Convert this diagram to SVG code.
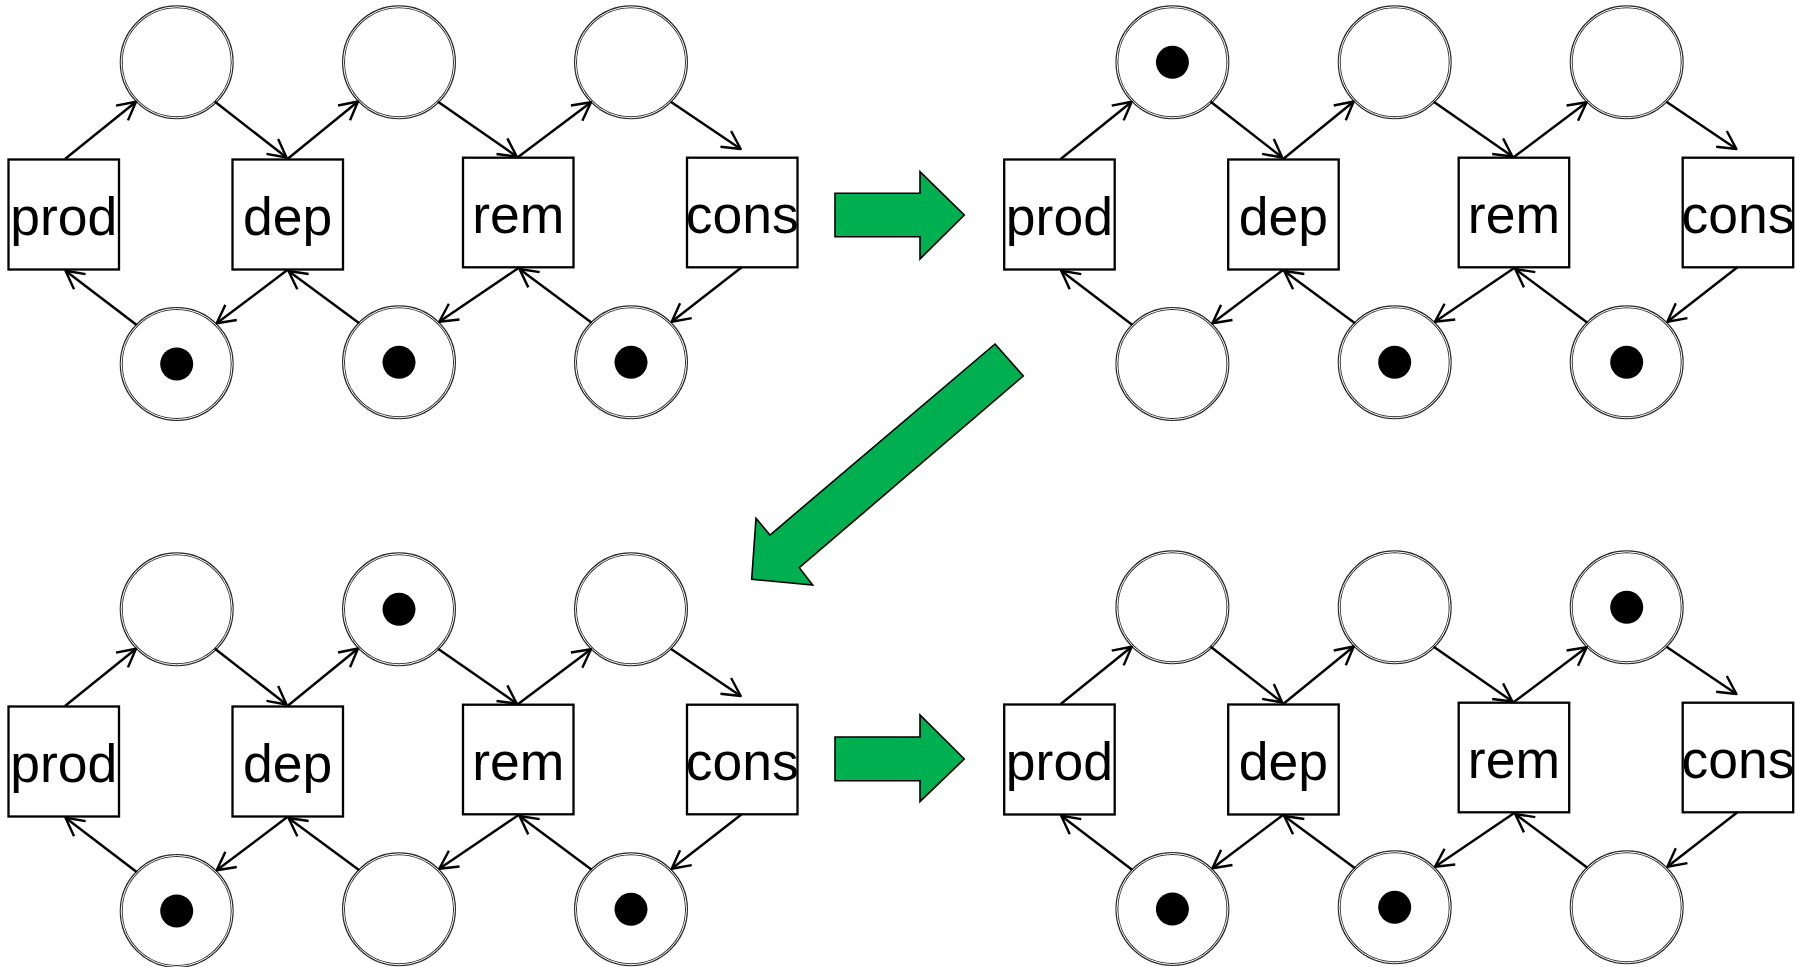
<svg xmlns="http://www.w3.org/2000/svg" width="1796" height="967" viewBox="0 0 1796 967">
  <style>
    .place { fill: #fff; stroke: #2a2a2a; stroke-width: 3; }
    .gap { fill: none; stroke: #fff; stroke-width: 1; }
    .token { fill: #000; }
    .trans { fill: #fff; stroke: #000; stroke-width: 2.3; }
    .label { font-family: "Liberation Sans", Arial, sans-serif; font-size: 53.5px; text-anchor: middle; fill: #000; }
    .arc { fill: none; stroke: #000; stroke-width: 2.4; marker-end: url(#open); }
    .step { fill: #00b050; stroke: #000; stroke-width: 1.6; stroke-linejoin: miter; }
  </style>
  <defs>
    <marker id="open" markerUnits="userSpaceOnUse" markerWidth="30" markerHeight="30" refX="0" refY="0" orient="auto" viewBox="-25 -15 30 30" overflow="visible">
      <path d="M -18 -9.5 L 0 0 L -18 9.5" fill="none" stroke="#000" stroke-width="2.4" stroke-linejoin="round" stroke-linecap="butt"/>
    </marker>
  </defs>

  <rect width="1796" height="967" fill="#fff"/>

  <!-- Marking 1: tokens in the three lower places -->
  <g id="net1">
    <g id="net1-pt1"><circle class="place" cx="176.7" cy="62.3" r="55.5"/><circle class="gap" cx="176.7" cy="62.3" r="55.5"/></g>
    <g id="net1-pt2"><circle class="place" cx="399" cy="62.3" r="55.5"/><circle class="gap" cx="399" cy="62.3" r="55.5"/></g>
    <g id="net1-pt3"><circle class="place" cx="631" cy="62.3" r="55.5"/><circle class="gap" cx="631" cy="62.3" r="55.5"/></g>
    <g id="net1-pb1"><circle class="place" cx="176.7" cy="364" r="55.5"/><circle class="gap" cx="176.7" cy="364" r="55.5"/><circle class="token" cx="176.7" cy="364" r="16.5"/></g>
    <g id="net1-pb2"><circle class="place" cx="399" cy="362.3" r="55.5"/><circle class="gap" cx="399" cy="362.3" r="55.5"/><circle class="token" cx="399" cy="362.3" r="16.5"/></g>
    <g id="net1-pb3"><circle class="place" cx="631" cy="362.3" r="55.5"/><circle class="gap" cx="631" cy="362.3" r="55.5"/><circle class="token" cx="631" cy="362.3" r="16.5"/></g>
    <g id="net1-prod"><rect class="trans" x="8.5" y="159.5" width="110.5" height="110"/><text class="label" x="63.7" y="235">prod</text></g>
    <g id="net1-dep"><rect class="trans" x="232.5" y="159.5" width="110.5" height="110"/><text class="label" x="287.7" y="235">dep</text></g>
    <g id="net1-rem"><rect class="trans" x="463" y="157.7" width="110.5" height="109.6"/><text class="label" x="518.2" y="232.5">rem</text></g>
    <g id="net1-cons"><rect class="trans" x="687" y="157.7" width="110.5" height="109.6"/><text class="label" x="742.2" y="232.5">cons</text></g>
    <g id="net1-arcs">
      <line class="arc" x1="65" y1="159" x2="136" y2="101.7"/>
      <line class="arc" x1="215" y1="101.7" x2="286.5" y2="157.5"/>
      <line class="arc" x1="287.5" y1="159" x2="358" y2="101.5"/>
      <line class="arc" x1="438" y1="101.7" x2="516.7" y2="156.5"/>
      <line class="arc" x1="517.5" y1="157.5" x2="591" y2="102.3"/>
      <line class="arc" x1="670.7" y1="101.7" x2="740.7" y2="149"/>
      <line class="arc" x1="741.7" y1="267.3" x2="671.7" y2="321.7"/>
      <line class="arc" x1="591.7" y1="322.7" x2="519.5" y2="269"/>
      <line class="arc" x1="518.5" y1="268" x2="439.3" y2="321.7"/>
      <line class="arc" x1="359.3" y1="323.3" x2="288.5" y2="271"/>
      <line class="arc" x1="287.3" y1="270" x2="216.7" y2="323.3"/>
      <line class="arc" x1="136.7" y1="325" x2="65.5" y2="270.7"/>
    </g>
  </g>

  <!-- Marking 2: after prod fires -->
  <g id="net2" transform="translate(995.7 0)">
    <g id="net2-pt1"><circle class="place" cx="176.7" cy="62.3" r="55.5"/><circle class="gap" cx="176.7" cy="62.3" r="55.5"/><circle class="token" cx="176.7" cy="62.3" r="16.5"/></g>
    <g id="net2-pt2"><circle class="place" cx="399" cy="62.3" r="55.5"/><circle class="gap" cx="399" cy="62.3" r="55.5"/></g>
    <g id="net2-pt3"><circle class="place" cx="631" cy="62.3" r="55.5"/><circle class="gap" cx="631" cy="62.3" r="55.5"/></g>
    <g id="net2-pb1"><circle class="place" cx="176.7" cy="364" r="55.5"/><circle class="gap" cx="176.7" cy="364" r="55.5"/></g>
    <g id="net2-pb2"><circle class="place" cx="399" cy="362.3" r="55.5"/><circle class="gap" cx="399" cy="362.3" r="55.5"/><circle class="token" cx="399" cy="362.3" r="16.5"/></g>
    <g id="net2-pb3"><circle class="place" cx="631" cy="362.3" r="55.5"/><circle class="gap" cx="631" cy="362.3" r="55.5"/><circle class="token" cx="631" cy="362.3" r="16.5"/></g>
    <g id="net2-prod"><rect class="trans" x="8.5" y="159.5" width="110.5" height="110"/><text class="label" x="63.7" y="235">prod</text></g>
    <g id="net2-dep"><rect class="trans" x="232.5" y="159.5" width="110.5" height="110"/><text class="label" x="287.7" y="235">dep</text></g>
    <g id="net2-rem"><rect class="trans" x="463" y="157.7" width="110.5" height="109.6"/><text class="label" x="518.2" y="232.5">rem</text></g>
    <g id="net2-cons"><rect class="trans" x="687" y="157.7" width="110.5" height="109.6"/><text class="label" x="742.2" y="232.5">cons</text></g>
    <g id="net2-arcs">
      <line class="arc" x1="65" y1="159" x2="136" y2="101.7"/>
      <line class="arc" x1="215" y1="101.7" x2="286.5" y2="157.5"/>
      <line class="arc" x1="287.5" y1="159" x2="358" y2="101.5"/>
      <line class="arc" x1="438" y1="101.7" x2="516.7" y2="156.5"/>
      <line class="arc" x1="517.5" y1="157.5" x2="591" y2="102.3"/>
      <line class="arc" x1="670.7" y1="101.7" x2="740.7" y2="149"/>
      <line class="arc" x1="741.7" y1="267.3" x2="671.7" y2="321.7"/>
      <line class="arc" x1="591.7" y1="322.7" x2="519.5" y2="269"/>
      <line class="arc" x1="518.5" y1="268" x2="439.3" y2="321.7"/>
      <line class="arc" x1="359.3" y1="323.3" x2="288.5" y2="271"/>
      <line class="arc" x1="287.3" y1="270" x2="216.7" y2="323.3"/>
      <line class="arc" x1="136.7" y1="325" x2="65.5" y2="270.7"/>
    </g>
  </g>

  <!-- Marking 3: after dep fires -->
  <g id="net3" transform="translate(0 547)">
    <g id="net3-pt1"><circle class="place" cx="176.7" cy="62.3" r="55.5"/><circle class="gap" cx="176.7" cy="62.3" r="55.5"/></g>
    <g id="net3-pt2"><circle class="place" cx="399" cy="62.3" r="55.5"/><circle class="gap" cx="399" cy="62.3" r="55.5"/><circle class="token" cx="399" cy="62.3" r="16.5"/></g>
    <g id="net3-pt3"><circle class="place" cx="631" cy="62.3" r="55.5"/><circle class="gap" cx="631" cy="62.3" r="55.5"/></g>
    <g id="net3-pb1"><circle class="place" cx="176.7" cy="364" r="55.5"/><circle class="gap" cx="176.7" cy="364" r="55.5"/><circle class="token" cx="176.7" cy="364" r="16.5"/></g>
    <g id="net3-pb2"><circle class="place" cx="399" cy="362.3" r="55.5"/><circle class="gap" cx="399" cy="362.3" r="55.5"/></g>
    <g id="net3-pb3"><circle class="place" cx="631" cy="362.3" r="55.5"/><circle class="gap" cx="631" cy="362.3" r="55.5"/><circle class="token" cx="631" cy="362.3" r="16.5"/></g>
    <g id="net3-prod"><rect class="trans" x="8.5" y="159.5" width="110.5" height="110"/><text class="label" x="63.7" y="235">prod</text></g>
    <g id="net3-dep"><rect class="trans" x="232.5" y="159.5" width="110.5" height="110"/><text class="label" x="287.7" y="235">dep</text></g>
    <g id="net3-rem"><rect class="trans" x="463" y="157.7" width="110.5" height="109.6"/><text class="label" x="518.2" y="232.5">rem</text></g>
    <g id="net3-cons"><rect class="trans" x="687" y="157.7" width="110.5" height="109.6"/><text class="label" x="742.2" y="232.5">cons</text></g>
    <g id="net3-arcs">
      <line class="arc" x1="65" y1="159" x2="136" y2="101.7"/>
      <line class="arc" x1="215" y1="101.7" x2="286.5" y2="157.5"/>
      <line class="arc" x1="287.5" y1="159" x2="358" y2="101.5"/>
      <line class="arc" x1="438" y1="101.7" x2="516.7" y2="156.5"/>
      <line class="arc" x1="517.5" y1="157.5" x2="591" y2="102.3"/>
      <line class="arc" x1="670.7" y1="101.7" x2="740.7" y2="149"/>
      <line class="arc" x1="741.7" y1="267.3" x2="671.7" y2="321.7"/>
      <line class="arc" x1="591.7" y1="322.7" x2="519.5" y2="269"/>
      <line class="arc" x1="518.5" y1="268" x2="439.3" y2="321.7"/>
      <line class="arc" x1="359.3" y1="323.3" x2="288.5" y2="271"/>
      <line class="arc" x1="287.3" y1="270" x2="216.7" y2="323.3"/>
      <line class="arc" x1="136.7" y1="325" x2="65.5" y2="270.7"/>
    </g>
  </g>

  <!-- Marking 4: after prod fires again -->
  <g id="net4" transform="translate(995.7 545)">
    <g id="net4-pt1"><circle class="place" cx="176.7" cy="62.3" r="55.5"/><circle class="gap" cx="176.7" cy="62.3" r="55.5"/></g>
    <g id="net4-pt2"><circle class="place" cx="399" cy="62.3" r="55.5"/><circle class="gap" cx="399" cy="62.3" r="55.5"/></g>
    <g id="net4-pt3"><circle class="place" cx="631" cy="62.3" r="55.5"/><circle class="gap" cx="631" cy="62.3" r="55.5"/><circle class="token" cx="631" cy="62.3" r="16.5"/></g>
    <g id="net4-pb1"><circle class="place" cx="176.7" cy="364" r="55.5"/><circle class="gap" cx="176.7" cy="364" r="55.5"/><circle class="token" cx="176.7" cy="364" r="16.5"/></g>
    <g id="net4-pb2"><circle class="place" cx="399" cy="362.3" r="55.5"/><circle class="gap" cx="399" cy="362.3" r="55.5"/><circle class="token" cx="399" cy="362.3" r="16.5"/></g>
    <g id="net4-pb3"><circle class="place" cx="631" cy="362.3" r="55.5"/><circle class="gap" cx="631" cy="362.3" r="55.5"/></g>
    <g id="net4-prod"><rect class="trans" x="8.5" y="159.5" width="110.5" height="110"/><text class="label" x="63.7" y="235">prod</text></g>
    <g id="net4-dep"><rect class="trans" x="232.5" y="159.5" width="110.5" height="110"/><text class="label" x="287.7" y="235">dep</text></g>
    <g id="net4-rem"><rect class="trans" x="463" y="157.7" width="110.5" height="109.6"/><text class="label" x="518.2" y="232.5">rem</text></g>
    <g id="net4-cons"><rect class="trans" x="687" y="157.7" width="110.5" height="109.6"/><text class="label" x="742.2" y="232.5">cons</text></g>
    <g id="net4-arcs">
      <line class="arc" x1="65" y1="159" x2="136" y2="101.7"/>
      <line class="arc" x1="215" y1="101.7" x2="286.5" y2="157.5"/>
      <line class="arc" x1="287.5" y1="159" x2="358" y2="101.5"/>
      <line class="arc" x1="438" y1="101.7" x2="516.7" y2="156.5"/>
      <line class="arc" x1="517.5" y1="157.5" x2="591" y2="102.3"/>
      <line class="arc" x1="670.7" y1="101.7" x2="740.7" y2="149"/>
      <line class="arc" x1="741.7" y1="267.3" x2="671.7" y2="321.7"/>
      <line class="arc" x1="591.7" y1="322.7" x2="519.5" y2="269"/>
      <line class="arc" x1="518.5" y1="268" x2="439.3" y2="321.7"/>
      <line class="arc" x1="359.3" y1="323.3" x2="288.5" y2="271"/>
      <line class="arc" x1="287.3" y1="270" x2="216.7" y2="323.3"/>
      <line class="arc" x1="136.7" y1="325" x2="65.5" y2="270.7"/>
    </g>
  </g>

  <!-- Green step arrows between markings -->
  <g id="steps">
    <polygon id="step-1" class="step" points="835,193.3 920,193.3 920,171.7 964.3,215 920,259 920,236.7 835,236.7"/>
    <polygon id="step-2" class="step" points="995,344 1023.3,376 799.3,567.7 812.7,585 751.7,579.3 756,518.3 770,535"/>
    <polygon id="step-3" class="step" points="835,737 920,737 920,715 964.3,759 920,801.7 920,780.7 835,780.7"/>
  </g>
</svg>
